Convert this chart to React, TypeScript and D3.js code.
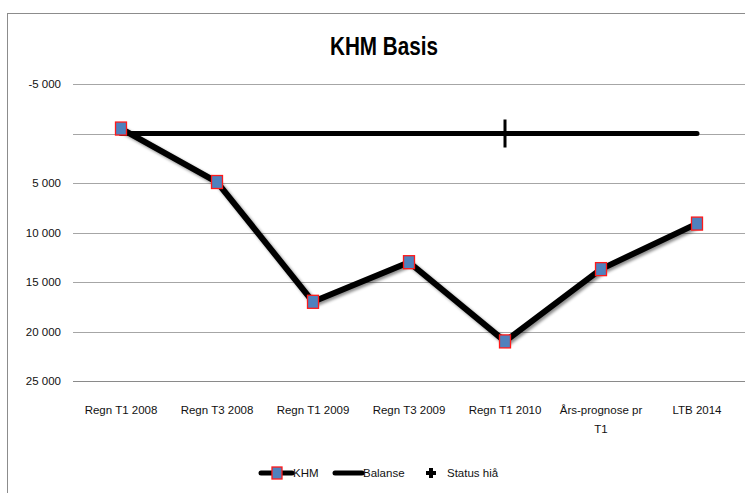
import React, { useEffect, useRef } from "react";
import * as d3 from "d3";

// chart data
const categories = ["Regn T1 2008", "Regn T3 2008", "Regn T1 2009", "Regn T3 2009", "Regn T1 2010", "Års-prognose pr T1", "LTB 2014"];
const khm = [-500, 4900, 17000, 13000, 21000, 13700, 9100];
const balanse = [0, 0, 0, 0, 0, 0, 0];
const statusCat = "Regn T1 2010";
const statusVal = 0;
const yTicks = [-5000, 0, 5000, 10000, 15000, 20000, 25000];

const W = 745, H = 493;
const font = "'Liberation Sans', Arial, sans-serif";

export default function App() {
  const ref = useRef<SVGSVGElement>(null);

  useEffect(() => {
    const svg = d3.select(ref.current);
    svg.selectAll("*").remove();

    const x = d3.scaleBand().domain(categories).range([73, 745]).padding(0);
    const y = d3.scaleLinear().domain([-5000, 25000]).range([84, 381]);
    const cx = (c) => x(c) + x.bandwidth() / 2;

    const loc = d3.formatLocale({ decimal: ",", thousands: " ", grouping: [3], currency: ["", ""], minus: "-" });
    const fmt = (v) => (v === 0 ? "" : loc.format(",")(v));

    // shadow for the KHM line
    const defs = svg.append("defs");
    defs.append("filter").attr("id", "shadow").attr("x", "-10%").attr("y", "-10%").attr("width", "120%").attr("height", "130%")
      .append("feDropShadow").attr("dx", 2).attr("dy", 2).attr("stdDeviation", 1.5).attr("flood-color", "#000").attr("flood-opacity", 0.45);

    // outer frame
    svg.append("rect").attr("x", 7.5).attr("y", 13.5).attr("width", 760).attr("height", 500)
      .attr("fill", "white").attr("stroke", "#8c8c8c");

    // title (squeezed to match the narrow original font)
    svg.append("text").attr("x", 384).attr("y", 55).attr("text-anchor", "middle")
      .attr("font-family", font).attr("font-weight", "bold")
      .attr("font-size", 26).attr("textLength", 108).attr("lengthAdjust", "spacingAndGlyphs").text("KHM Basis");

    // gridlines
    svg.append("g").selectAll("line").data(yTicks).join("line")
      .attr("x1", 73).attr("x2", W).attr("y1", (d) => Math.round(y(d)) + 0.5).attr("y2", (d) => Math.round(y(d)) + 0.5)
      .attr("stroke", (d) => (d === 25000 ? "#8a8a8a" : "#a6a6a6")).attr("stroke-width", 1);

    // y labels
    svg.append("g").selectAll("text").data(yTicks).join("text")
      .attr("x", 61).attr("y", (d) => y(d) + 4).attr("text-anchor", "end")
      .attr("font-family", font).attr("font-size", 11.5).attr("fill", "#111").text((d) => fmt(d));

    // x labels (wrap the long one)
    const xl = svg.append("g").selectAll("text").data(categories).join("text")
      .attr("x", (d) => cx(d)).attr("y", 414).attr("text-anchor", "middle")
      .attr("font-family", font).attr("font-size", 11.5).attr("fill", "#111");
    xl.each(function (d) {
      const t = d3.select(this);
      const parts = d.length > 14 ? [d.slice(0, d.lastIndexOf(" ")), d.slice(d.lastIndexOf(" ") + 1)] : [d];
      parts.forEach((p, i) => t.append("tspan").attr("x", cx(d)).attr("dy", i ? 19 : 0).text(p));
    });

    // Balanse line
    const line = d3.line<number>().x((_, i) => cx(categories[i])).y((d) => y(d));
    svg.append("path").datum(balanse).attr("d", line).attr("fill", "none")
      .attr("stroke", "#000").attr("stroke-width", 5).attr("stroke-linecap", "round");

    // Status hiå marker
    const sx = cx(statusCat), sy = y(statusVal);
    svg.append("path").attr("d", `M${sx},${sy - 14}V${sy + 14}M${sx - 14},${sy}H${sx + 14}`)
      .attr("stroke", "#000").attr("stroke-width", 3);

    // KHM line + markers
    svg.append("path").datum(khm).attr("d", line).attr("fill", "none").attr("filter", "url(#shadow)")
      .attr("stroke", "#000").attr("stroke-width", 6).attr("stroke-linejoin", "round");
    svg.append("g").selectAll("rect").data(khm).join("rect")
      .attr("x", (_, i) => cx(categories[i]) - 5.5).attr("y", (d) => y(d) - 6.5)
      .attr("width", 11).attr("height", 13).attr("fill", "#4f81bd").attr("stroke", "#ff1a1a").attr("stroke-width", 1.3);

    // legend
    const lg = svg.append("g").attr("font-family", font).attr("font-size", 11.5).attr("fill", "#111");
    const ly = 473;
    lg.append("line").attr("x1", 261).attr("x2", 292).attr("y1", ly).attr("y2", ly).attr("stroke", "#000").attr("stroke-width", 5).attr("stroke-linecap", "round");
    lg.append("rect").attr("x", 272).attr("y", ly - 6).attr("width", 10).attr("height", 12).attr("fill", "#4f81bd").attr("stroke", "#ff1a1a").attr("stroke-width", 1.3);
    lg.append("text").attr("x", 293).attr("y", ly + 4).text("KHM");
    lg.append("line").attr("x1", 335).attr("x2", 362).attr("y1", ly).attr("y2", ly).attr("stroke", "#000").attr("stroke-width", 5).attr("stroke-linecap", "round");
    lg.append("text").attr("x", 363).attr("y", ly + 4).text("Balanse");
    lg.append("path").attr("d", `M431,${ly - 5}V${ly + 5}M426,${ly}H436`).attr("stroke", "#000").attr("stroke-width", 4);
    lg.append("text").attr("x", 447).attr("y", ly + 4).text("Status hiå");
  }, []);

  return (
    <svg ref={ref} width={W} height={H} style={{ position: "absolute", left: 0, top: 0, background: "white" }} />
  );
}
